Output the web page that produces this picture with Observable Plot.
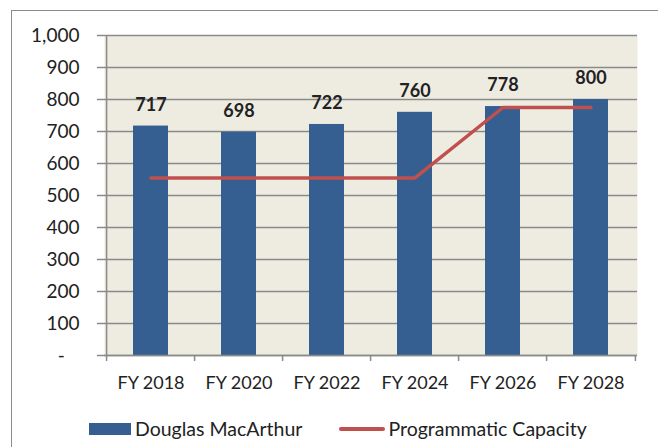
<!DOCTYPE html>
<html><head><meta charset="utf-8">
<script src="https://cdn.jsdelivr.net/npm/d3@7"></script>
<script src="https://cdn.jsdelivr.net/npm/@observablehq/plot@0.6"></script>
<style>
body{margin:0;background:#fff;font-family:Lato,sans-serif;}
#wrap{position:relative;width:658px;height:447px;overflow:hidden;background:#fff;}
#border{position:absolute;left:11px;top:10px;width:700px;height:500px;border:1.5px solid #8c8c8c;box-sizing:border-box;}
#chart{position:absolute;left:0;top:0;}
#legend{position:absolute;left:89px;top:417px;display:flex;align-items:center;font-size:19.5px;color:#222;white-space:nowrap;}
.sw-bar{width:42px;height:12px;background:#365F91;margin-right:4px;}
.sw-line{width:46px;height:4px;border-radius:2px;background:#C0504D;margin-left:37px;margin-right:3px;}
</style></head>
<body>
<div id="wrap">
<div id="border"></div>
<div id="chart"></div>
<div id="legend"><div class="sw-bar"></div><span>Douglas MacArthur</span><div class="sw-line"></div><span>Programmatic Capacity</span></div>
</div>
<script>
const years = ["FY 2018","FY 2020","FY 2022","FY 2024","FY 2026","FY 2028"];
const enrollment = [717,698,722,760,778,800];
const capacity = [555,555,555,555,775,775];
const yTicks = [0,100,200,300,400,500,600,700,800,900,1000];

const rows = years.map((year,i)=>({year, enrollment:enrollment[i], capacity:capacity[i]}));

const W = 658, H = 400, ML = 104, MR = 21, MT = 35, MB = 45;
const PI = 0.6, PO = 0.3;
const step = (W - ML - MR) / (years.length - PI + 2*PO);
const grey = "#8a8a8a";
const fmt = d3.format(",");

const chart = Plot.plot({
  width: W, height: H,
  marginLeft: ML, marginRight: MR, marginTop: MT, marginBottom: MB,
  style: {fontFamily: "Lato, sans-serif", fontSize: "18px", color: "#222", background: "transparent", overflow: "visible"},
  x: {type: "band", domain: years, paddingInner: PI, paddingOuter: PO},
  y: {domain: [0, 1000]},
  marks: [
    Plot.frame({fill: "#EEECE1", stroke: null}),
    Plot.gridY(yTicks, {stroke: grey, strokeOpacity: 1, strokeWidth: 1.5}),
    Plot.barY(rows, {x: "year", y: "enrollment", fill: "#365F91"}),
    Plot.line(rows, {x: "year", y: "capacity", stroke: "#C0504D", strokeWidth: 3.5, strokeLinecap: "round", strokeLinejoin: "round"}),
    Plot.text(rows, {x: "year", y: "enrollment", text: d => fmt(d.enrollment), dy: -21, fontWeight: "bold", fontSize: 18, fill: "#222"}),
    Plot.ruleY([0], {stroke: grey, strokeWidth: 1.5}),
    Plot.ruleX([years[0]], {y1: 0, y2: 1000, dx: -step/2, stroke: grey, strokeWidth: 1.5}),
    Plot.axisY({ticks: yTicks, tickSize: 7, tickPadding: 18, stroke: grey, strokeWidth: 1.5, fill: "#222", fontSize: 19,
      tickFormat: d => d === 0 ? "-\u00a0\u00a0\u00a0" : fmt(d), label: null}),
    Plot.axisX({ticks: years, tickSize: 0, tickPadding: 21, fill: "#222", label: null}),
    Plot.axisX({ticks: years, tickSize: 6, tickFormat: () => "", stroke: grey, strokeWidth: 1.5, dx: -step/2, label: null}),
    Plot.axisX({ticks: [years[years.length-1]], tickSize: 6, tickFormat: () => "", stroke: grey, strokeWidth: 1.5, dx: step/2, label: null})
  ]
});
document.getElementById("chart").appendChild(chart);
</script>
</body></html>
